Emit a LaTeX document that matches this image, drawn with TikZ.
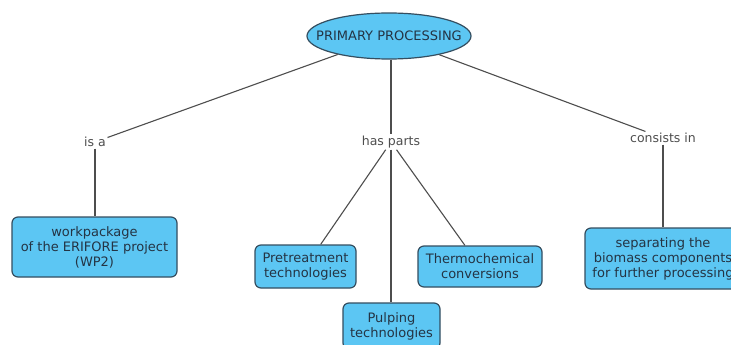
\documentclass[tikz,border=0pt]{standalone}
\usepackage{fontspec}
\setmainfont{DejaVu Sans}
\usetikzlibrary{shapes.geometric}
\definecolor{conceptfill}{RGB}{92,198,243}
\definecolor{conceptline}{RGB}{52,78,96}
\definecolor{concepttext}{RGB}{36,52,68}
\definecolor{linkgray}{RGB}{78,78,78}
\tikzset{
  concept/.style={draw=conceptline, fill=conceptfill, text=concepttext, line width=1.2pt,
    rounded corners=6pt, align=center, font=\fontsize{13}{15}\selectfont, inner sep=2pt},
  topic/.style={concept, ellipse, rounded corners=0pt, minimum width=164pt, minimum height=46pt, inner sep=0pt},
  linkword/.style={text=linkgray, font=\fontsize{12.5}{15}\selectfont, inner sep=1.5pt},
  link/.style={draw=linkgray, line width=1.1pt}
}
\begin{document}
\begin{tikzpicture}[x=1pt, y=-1pt]
			%%%%% START %%%%%
			\useasboundingbox[fill=white] (0,0) rectangle (731,345);
			
			\node[topic, label={[text=concepttext, font=\fontsize{13}{15}\selectfont]center:PRIMARY PROCESSING}] (primary) at (389,36) {};
			
			\node[linkword] (isa) at (95,142) {is a};
			\node[linkword] (hasparts) at (391,142) {has parts};
			\node[linkword] (consists) at (663,138) {consists in};
			
			\node[concept, minimum width=165pt, minimum height=60pt] (wp) at (94.5,247) {workpackage\\of the ERIFORE project\\(WP2)};
			\node[concept, minimum width=101pt, minimum height=43pt] (pretreat) at (305.5,266.5) {Pretreatment\\technologies};
			\node[concept, minimum width=124pt, minimum height=41pt] (thermo) at (480,266.5) {Thermochemical\\conversions};
			\node[concept, minimum width=97pt, minimum height=46pt] (pulping) at (391.5,326) {Pulping\\technologies};
			\node[concept, minimum width=156pt, minimum height=61pt] (separating) at (663,258.5) {separating the\\biomass components\\for further processing};
			
			\draw[link] (primary) -- (isa);
			\draw[link] (isa) -- (isa |- wp.north);
			
			\draw[link] (primary.south -| hasparts) -- (hasparts);
			\draw[link] (hasparts) -- (pretreat);
			\draw[link] (hasparts) -- (pulping.north -| hasparts);
			\draw[link] (hasparts) -- (thermo);
			
			\draw[link] (primary) -- (consists);
			\draw[link] (consists) -- (separating);
			%%%%% END %%%%%
\end{tikzpicture}
\end{document}
